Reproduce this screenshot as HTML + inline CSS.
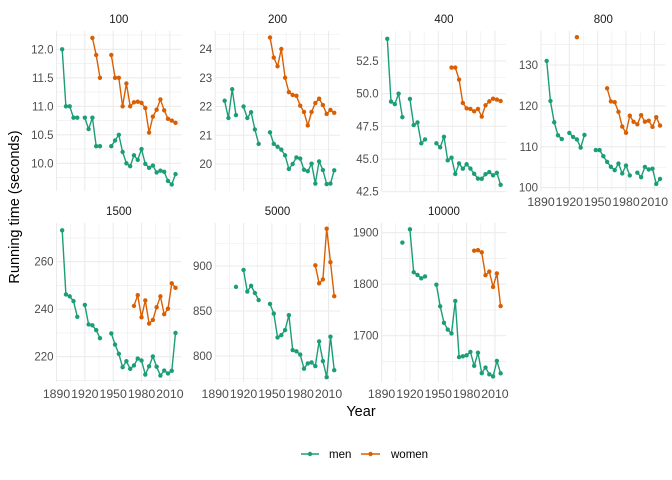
<!DOCTYPE html>
<html><head><meta charset="utf-8">
<style>
html,body{margin:0;padding:0;background:#fff;}
svg{display:block;font-family:"Liberation Sans",sans-serif;}
</style></head>
<body>
<svg id="s" width="672" height="480" xmlns="http://www.w3.org/2000/svg"></svg>
<script>
const N=null;
const yrs=[1896,1900,1904,1908,1912,1916,1920,1924,1928,1932,1936,1940,1944,1948,1952,1956,1960,1964,1968,1972,1976,1980,1984,1988,1992,1996,2000,2004,2008,2012,2016];
function mk(o){const a=[];for(let i=0;i<yrs.length;i++){a.push(o[yrs[i]]===undefined?N:o[yrs[i]]);}return a;}
function seq(start,vals){const o={};let y=start;for(const v of vals){o[y]=v;y+=4;}return o;}
const panels=[
{t:"100",x0:56.5,y0:31,y1:191,ref:12.0,refpx:49.3,s:57,maj:[10,10.5,11,11.5,12],lab:v=>v.toFixed(1),xl:false,
 m:seq(1896,[12.0,11.0,11.0,10.8,10.8,N,10.8,10.6,10.8,10.3,10.3,N,N,10.3,10.4,10.5,10.2,10.0,9.95,10.14,10.06,10.25,9.99,9.92,9.96,9.84,9.87,9.85,9.69,9.63,9.81]),
 w:seq(1928,[12.2,11.9,11.5,N,N,11.9,11.5,11.5,11.0,11.4,11.0,11.07,11.08,11.06,10.97,10.54,10.82,10.94,11.12,10.93,10.78,10.75,10.71])},
{t:"200",x0:215.2,y0:31,y1:191,ref:24,refpx:49,s:28.75,maj:[20,21,22,23,24],lab:v=>String(v),xl:false,
 m:seq(1900,[22.2,21.6,22.6,21.7,N,22.0,21.6,21.8,21.2,20.7,N,N,21.1,20.7,20.6,20.5,20.3,19.83,20.0,20.23,20.19,19.8,19.75,20.01,19.32,20.09,19.79,19.30,19.32,19.78]),
 w:seq(1948,[24.4,23.7,23.4,24.0,23.0,22.5,22.4,22.37,22.03,21.81,21.34,21.81,22.12,22.27,22.05,21.74,21.88,21.78])},
{t:"400",x0:381.6,y0:31,y1:191,ref:52.5,refpx:61,s:13.07,maj:[42.5,45,47.5,50,52.5],lab:v=>v.toFixed(1),xl:false,
 m:seq(1896,[54.2,49.4,49.2,50.0,48.2,N,49.6,47.6,47.8,46.2,46.5,N,N,46.2,45.9,46.7,44.9,45.1,43.86,44.66,44.26,44.60,44.27,43.87,43.50,43.49,43.84,44.00,43.75,43.94,43.03]),
 w:seq(1964,[52.0,52.0,51.08,49.29,48.88,48.83,48.65,48.83,48.25,49.11,49.41,49.62,49.55,49.44])},
{t:"800",x0:541,y0:31,y1:191,ref:130,refpx:65,s:4.09,maj:[100,110,120,130],lab:v=>String(v),xl:true,xly:202,
 m:seq(1896,[131,121.2,116,112.8,111.9,N,113.4,112.4,111.8,109.8,112.9,N,N,109.2,109.2,107.7,106.3,105.1,104.3,105.9,103.5,105.4,103.0,N,103.66,102.58,105.08,104.45,104.65,100.91,102.15]),
 w:seq(1928,[136.8,N,N,N,N,N,N,N,124.3,121.1,120.9,118.55,114.94,113.42,117.6,116.1,115.5,117.73,116.15,116.38,114.87,117.23,115.2])},
{t:"1500",x0:56.5,y0:223,y1:382,ref:260,refpx:261.7,s:2.375,maj:[220,240,260],lab:v=>String(v),xl:true,xly:394,
 m:seq(1896,[273.2,246.2,245.4,243.4,236.8,N,241.8,233.6,233.2,231.2,227.8,N,N,229.8,225.1,221.2,215.6,218.1,214.9,216.3,219.2,218.4,212.5,215.96,220.12,215.78,212.07,214.18,212.94,214.08,230.0]),
 w:seq(1972,[241.4,245.9,236.6,243.7,233.96,235.5,240.83,245.4,237.9,240.2,250.9,249.0])},
{t:"5000",x0:215.2,y0:223,y1:382,ref:900,refpx:266,s:0.9,maj:[800,850,900],lab:v=>String(v),xl:true,xly:394,
 m:seq(1912,[876.8,N,895.6,871.6,878,870,862.2,N,N,857.8,847.2,820.6,823.2,828.8,845.4,806.6,805.2,801.6,785.96,791.7,792.8,788.8,816.2,794.4,776.5,821.5,784.2]),
 w:seq(1996,[900.8,880.8,885.1,941.4,904.2,866.5])},
{t:"10000",x0:381.6,y0:223,y1:382,ref:1900,refpx:232.7,s:0.515,maj:[1700,1800,1900],lab:v=>String(v),xl:true,xly:394,
 m:seq(1912,[1880.8,N,1906.6,1823.2,1818,1811.4,1815,N,N,1799,1757,1725,1712,1704.4,1767.4,1658.4,1660,1662,1668.5,1641.5,1666.9,1627.3,1638.2,1625,1621,1651,1627]),
 w:seq(1988,[1865,1866,1862,1817.5,1824.4,1794.7,1820.8,1757.5])}
];
const W=124.7, xs=W/132;
let h="";
for(const p of panels){
  const X=y=>p.x0+(y-1890)*xs, Y=v=>p.refpx-(v-p.ref)*p.s;
  const step=p.maj[1]-p.maj[0];
  for(let v=p.maj[0]-step/2;v<=p.maj[p.maj.length-1]+step;v+=step){const y=Y(v);if(y>=p.y0&&y<=p.y1)h+=`<line x1="${p.x0}" x2="${p.x0+W}" y1="${y}" y2="${y}" stroke="#ebebeb" stroke-width="0.55"/>`;}
  for(const yr of [1905,1935,1965,1995]){const x=X(yr);h+=`<line x1="${x}" x2="${x}" y1="${p.y0}" y2="${p.y1}" stroke="#ebebeb" stroke-width="0.55"/>`;}
  for(const v of p.maj){const y=Y(v);if(y>=p.y0-1&&y<=p.y1+1){h+=`<line x1="${p.x0}" x2="${p.x0+W}" y1="${y}" y2="${y}" stroke="#ebebeb" stroke-width="1.1"/>`;h+=`<text x="${p.x0-3}" y="${y+4}" font-size="11.5" fill="#4d4d4d" text-anchor="end">${p.lab(v)}</text>`;}}
  for(const yr of [1890,1920,1950,1980,2010]){const x=X(yr);h+=`<line x1="${x}" x2="${x}" y1="${p.y0}" y2="${p.y1}" stroke="#ebebeb" stroke-width="1.1"/>`;if(p.xl)h+=`<text x="${x}" y="${p.xly+4}" font-size="12.3" fill="#4d4d4d" text-anchor="middle">${yr}</text>`;}
  h+=`<text x="${p.x0+W/2}" y="${p.y0-8}" font-size="11.5" fill="#1a1a1a" text-anchor="middle">${p.t}</text>`;
  for(const [ser,col] of [[p.m,"#1b9e77"],[p.w,"#d95f02"]]){
    const a=mk(ser);let seg=[];
    const flush=()=>{if(seg.length>1)h+=`<polyline points="${seg.join(" ")}" fill="none" stroke="${col}" stroke-width="1.4"/>`;seg=[];};
    for(let i=0;i<yrs.length;i++){if(a[i]===N){flush();continue;}const x=X(yrs[i]),y=Y(a[i]);seg.push(x.toFixed(1)+","+y.toFixed(1));h+=`<circle cx="${x}" cy="${y}" r="2.2" fill="${col}"/>`;}
    flush();
  }
}
h+=`<text x="361" y="416" font-size="14.5" fill="#000" text-anchor="middle">Year</text>`;
h+=`<text transform="translate(19,207) rotate(-90)" font-size="14.5" fill="#000" text-anchor="middle">Running time (seconds)</text>`;
h+=`<line x1="301" x2="319" y1="454" y2="454" stroke="#1b9e77" stroke-width="1.4"/><circle cx="310" cy="454" r="2.2" fill="#1b9e77"/><text x="329" y="458" font-size="11.5" fill="#000">men</text>`;
h+=`<line x1="361" x2="380" y1="454" y2="454" stroke="#d95f02" stroke-width="1.4"/><circle cx="370.5" cy="454" r="2.2" fill="#d95f02"/><text x="391" y="458" font-size="11.5" fill="#000">women</text>`;
document.getElementById("s").innerHTML=h;
</script>
</body></html>
